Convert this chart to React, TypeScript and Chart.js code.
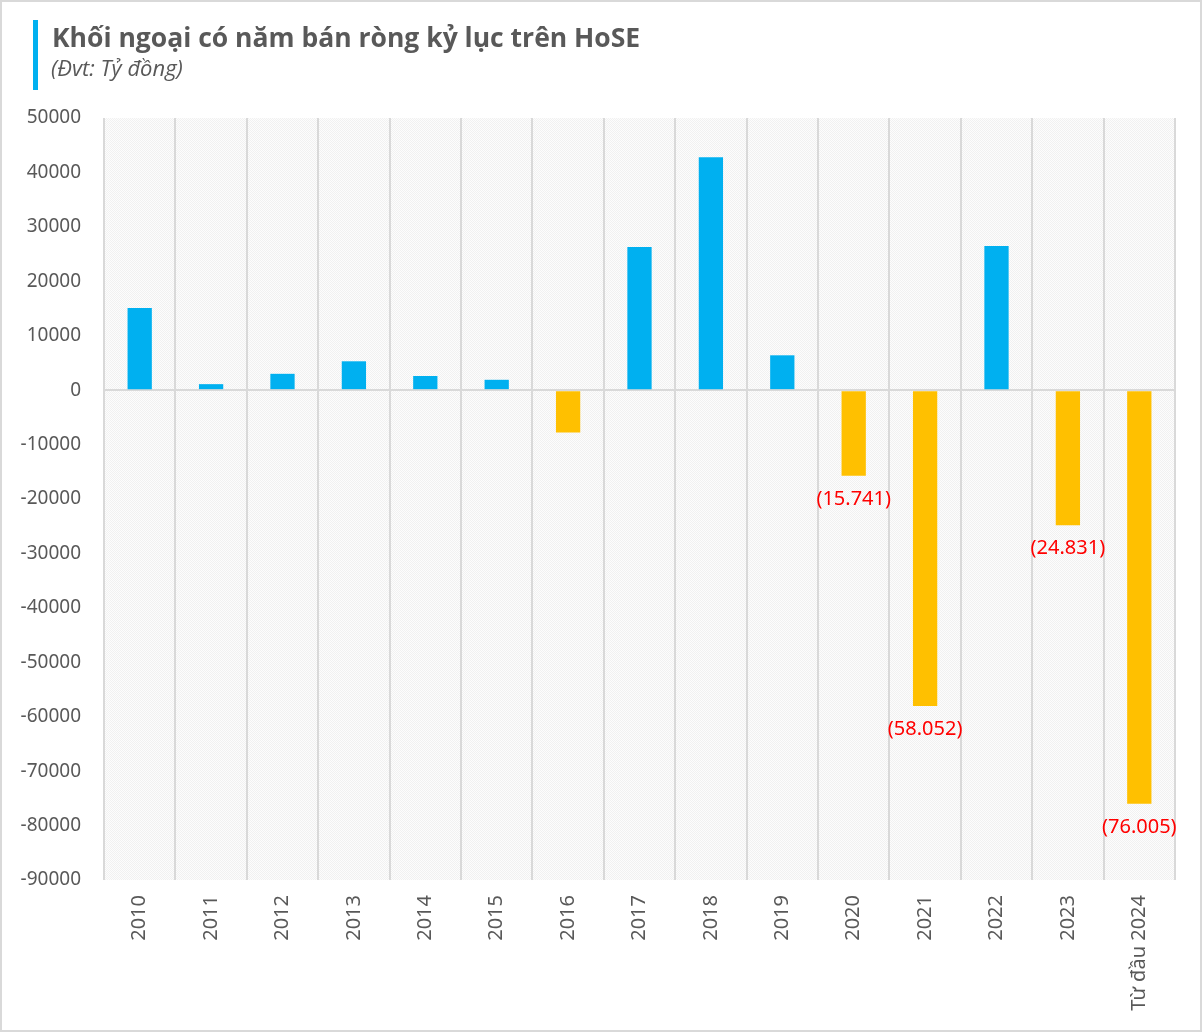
import React, { useEffect, useRef } from "react";
import { Chart, registerables } from "chart.js";

Chart.register(...registerables);

const categories = ["2010", "2011", "2012", "2013", "2014", "2015", "2016", "2017", "2018", "2019", "2020", "2021", "2022", "2023", "Từ đầu 2024"];
const netValues = [15100, 1100, 3000, 5300, 2600, 1900, -7800, 26300, 42800, 6400, -15741, -58052, 26500, -24831, -76005];
const labelledYears = ["2020", "2021", "2023", "Từ đầu 2024"];
const yTicks = { min: -90000, max: 50000, step: 10000 };

const BLUE = "#00B0F0";
const YELLOW = "#FFC000";
const GRID = "#d9d9d9";
const TEXT = "#595959";
const FONT = "'Noto Sans', 'Open Sans', sans-serif";

function fmtLabel(v: number) {
  const s = Math.abs(v).toLocaleString("de-DE");
  return v < 0 ? `(${s})` : s;
}

function makePattern(): CanvasPattern | string {
  const c = document.createElement("canvas");
  c.width = 2;
  c.height = 2;
  const g = c.getContext("2d");
  if (!g) return "#f8f8f8";
  g.fillStyle = "#fdfdfd";
  g.fillRect(0, 0, 2, 2);
  g.fillStyle = "#f1f1f1";
  g.fillRect(0, 0, 1, 1);
  g.fillRect(1, 1, 1, 1);
  const p = g.createPattern(c, "repeat");
  return p || "#f8f8f8";
}

const bgPlugin = {
  id: "plotBg",
  beforeDraw(chart: any) {
    const { ctx, chartArea } = chart;
    ctx.save();
    ctx.fillStyle = makePattern();
    ctx.fillRect(chartArea.left, chartArea.top, chartArea.right - chartArea.left, chartArea.bottom - chartArea.top);
    ctx.restore();
  },
};

const labelPlugin = {
  id: "valueLabels",
  afterDatasetsDraw(chart: any) {
    const { ctx } = chart;
    const meta = chart.getDatasetMeta(0);
    ctx.save();
    ctx.fillStyle = "#ff0000";
    ctx.font = `20px ${FONT}`;
    ctx.textAlign = "center";
    ctx.textBaseline = "middle";
    meta.data.forEach((bar: any, i: number) => {
      if (!labelledYears.includes(categories[i])) return;
      const v = netValues[i];
      const y = v < 0 ? bar.y + 23 : bar.y - 23;
      ctx.fillText(fmtLabel(v), bar.x, y);
    });
    ctx.restore();
  },
};

export default function App() {
  const ref = useRef<HTMLCanvasElement | null>(null);

  useEffect(() => {
    if (!ref.current) return;
    const chart = new Chart(ref.current, {
      type: "bar",
      data: {
        labels: categories,
        datasets: [
          {
            data: netValues,
            backgroundColor: netValues.map((v) => (v < 0 ? YELLOW : BLUE)),
            borderWidth: 0,
            barPercentage: 0.34,
            categoryPercentage: 1,
          },
        ],
      },
      options: {
        animation: false,
        responsive: false,
        maintainAspectRatio: false,
        layout: { padding: { left: 0, right: 27, top: 118, bottom: 12 } },
        plugins: { legend: { display: false }, tooltip: { enabled: false } },
        scales: {
          x: {
            offset: true,
            grid: { display: true, offset: true, color: GRID, lineWidth: 2, drawTicks: false },
            border: { display: false },
            ticks: {
              color: TEXT,
              font: { family: FONT, size: 20 },
              maxRotation: 90,
              minRotation: 90,
              padding: 15,
              autoSkip: false,
            },
            afterFit: (s: any) => {
              s.height = 140;
            },
          },
          y: {
            min: yTicks.min,
            max: yTicks.max,
            ticks: {
              stepSize: yTicks.step,
              color: TEXT,
              font: { family: FONT, size: 19 },
              padding: 23,
              callback: (v: any) => String(v),
            },
            grid: {
              drawTicks: false,
              lineWidth: 2,
              color: (c: any) => (c.tick && c.tick.value === 0 ? GRID : "rgba(0,0,0,0)"),
            },
            border: { display: false },
            afterFit: (s: any) => {
              s.width = 104;
            },
          },
        },
      },
      plugins: [bgPlugin, labelPlugin],
    });
    return () => chart.destroy();
  }, []);

  return (
    <div
      style={{
        position: "absolute",
        left: 0,
        top: 0,
        width: 1202,
        height: 1032,
        background: "#fff",
        boxSizing: "border-box",
        border: "2px solid #d9d9d9",
        overflow: "hidden",
      }}
    >
      <canvas ref={ref} width={1202} height={1032} style={{ position: "absolute", left: -2, top: -2 }} />
      <div style={{ position: "absolute", left: 31, top: 18, width: 5, height: 70, background: BLUE }} />
      <div
        style={{
          position: "absolute",
          left: 50,
          top: 18,
          fontFamily: "'Open Sans', sans-serif",
          fontWeight: 700,
          fontSize: 26.5,
          lineHeight: "34px",
          color: TEXT,
          whiteSpace: "nowrap",
        }}
      >
        Khối ngoại có năm bán ròng kỷ lục trên HoSE
      </div>
      <div
        style={{
          position: "absolute",
          left: 49,
          top: 52,
          fontFamily: "'Open Sans', sans-serif",
          fontStyle: "italic",
          fontSize: 22,
          lineHeight: "26px",
          color: TEXT,
          whiteSpace: "nowrap",
        }}
      >
        (Đvt: Tỷ đồng)
      </div>
    </div>
  );
}
